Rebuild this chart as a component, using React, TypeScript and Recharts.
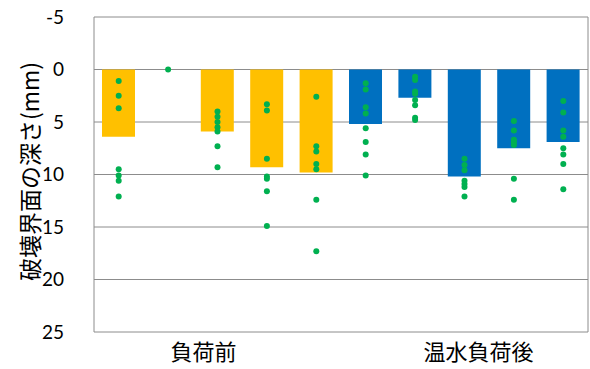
import React from 'react';
import { ComposedChart, Bar, Line, XAxis, YAxis, CartesianGrid, Cell } from 'recharts';

// Ten specimens: five before loading, five after hot-water loading
const specimens = ['A1', 'A2', 'A3', 'A4', 'A5', 'B1', 'B2', 'B3', 'B4', 'B5'];
const groupLabels = ['', '', '負荷前', '', '', '', '', '温水負荷後', '', ''];
const groupColors = ['#FFC000', '#FFC000', '#FFC000', '#FFC000', '#FFC000', '#0070C0', '#0070C0', '#0070C0', '#0070C0', '#0070C0'];

// Mean depth of the failure interface (mm)
const meanDepth = [6.4, 0, 5.9, 9.3, 9.8, 5.2, 2.7, 10.2, 7.5, 6.9];

// Individual measurements (mm)
const measured: number[][] = [
  [1.1, 2.5, 3.7, 9.5, 10.1, 10.6, 12.1],
  [0],
  [4.0, 4.5, 5.0, 5.5, 5.9, 7.3, 9.3],
  [3.3, 3.9, 8.5, 10.2, 10.4, 11.6, 14.9],
  [2.6, 7.3, 7.8, 9.0, 9.5, 12.4, 17.3],
  [1.3, 1.9, 3.6, 4.2, 5.6, 6.9, 8.1, 10.1],
  [0.7, 1.0, 2.1, 2.3, 2.9, 3.4, 4.6, 4.8],
  [8.5, 9.1, 9.6, 10.6, 10.9, 11.2, 12.1],
  [4.9, 5.8, 6.7, 6.9, 7.2, 10.4, 12.4],
  [3.0, 4.1, 5.8, 6.4, 7.5, 8.1, 9.0, 11.4],
];

const yTicks = [-5, 0, 5, 10, 15, 20, 25];

const maxPoints = Math.max(...measured.map((m) => m.length));
const pointKeys = Array.from({ length: maxPoints }, (_, i) => `p${i}`);

const rows = specimens.map((name, i) => {
  const row: Record<string, any> = { name, label: groupLabels[i], depth: meanDepth[i] };
  pointKeys.forEach((k, j) => {
    row[k] = j < measured[i].length ? measured[i][j] : null;
  });
  return row;
});

const numFont = 'Lato, "Noto Sans", sans-serif';
const cjkFont = '"Noto Sans CJK JP", "Noto Sans", sans-serif';

const GroupTick = (props: any) => {
  const { x, y, index } = props;
  const text = groupLabels[index];
  if (!text) return null;
  const shift = index < 5 ? -14 : 14;
  return (
    <text
      x={x + shift}
      y={y + 28}
      textAnchor="middle"
      fontFamily={cjkFont}
      fontSize={22}
      fill="#000"
    >
      {text}
    </text>
  );
};

const AxisTitle = (props: any) => {
  const { viewBox } = props;
  const cx = viewBox.x + 29;
  const cy = viewBox.y + viewBox.height / 2 - 3;
  return (
    <text
      x={cx}
      y={cy}
      transform={`rotate(-90, ${cx}, ${cy})`}
      textAnchor="middle"
      dominantBaseline="central"
      fontFamily={cjkFont}
      fontSize={23}
      fill="#000"
    >
      破壊界面の深さ(mm)
    </text>
  );
};

export default function App() {
  return (
    <div style={{ position: 'absolute', left: 0, top: 0, background: '#fff' }}>
      <ComposedChart
        width={590}
        height={369}
        data={rows}
        margin={{ top: 17, right: 2, bottom: 0, left: 0 }}
      >
        <CartesianGrid
          stroke="#8C8C8C"
          strokeWidth={1}
          horizontalValues={yTicks}
          verticalCoordinatesGenerator={({ offset }: any) => [offset.left, offset.left + offset.width]}
        />
        <XAxis
          dataKey="name"
          height={37}
          axisLine={false}
          tickLine={false}
          tickSize={0}
          tickMargin={0}
          interval={0}
          tick={<GroupTick />}
        />
        <YAxis
          type="number"
          domain={[-5, 25]}
          ticks={yTicks}
          reversed
          width={94}
          axisLine={false}
          tickLine={false}
          tickSize={0}
          tickMargin={30}
          tick={{ fontFamily: numFont, fontSize: 19, fill: '#000' }}
          label={<AxisTitle />}
        />
        <Bar dataKey="depth" barSize={33} isAnimationActive={false}>
          {rows.map((_, i) => (
            <Cell key={i} fill={groupColors[i]} />
          ))}
        </Bar>
        {pointKeys.map((k) => (
          <Line
            key={k}
            dataKey={k}
            stroke="none"
            isAnimationActive={false}
            activeDot={false}
            dot={{ r: 3, fill: '#00B050', stroke: 'none' }}
          />
        ))}
      </ComposedChart>
    </div>
  );
}
